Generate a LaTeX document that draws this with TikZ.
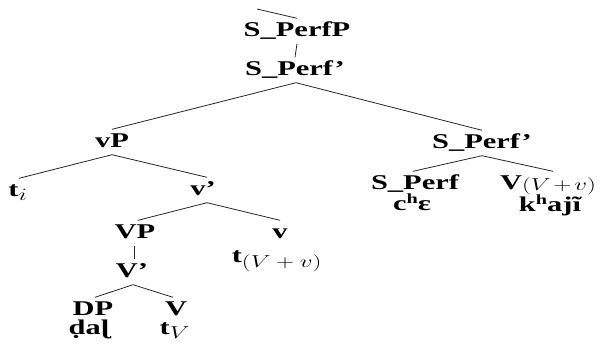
\documentclass[tikz,border=0pt]{standalone}
\usepackage{graphicx}
\usepackage{fontspec}
\setmainfont{Liberation Serif}
\DeclareMathSizes{21}{21}{16}{12}
\newcommand{\hs}[1]{\scalebox{1.45}[1]{#1}}
\newcommand{\sph}{\raisebox{0.33em}{\fontsize{14}{16}\selectfont h}}
\tikzset{
  tn/.style={anchor=base, font=\fontsize{21}{24}\selectfont\bfseries,
    text height=14pt, text depth=4pt, inner xsep=0pt, inner ysep=3.5pt},
  br/.style={line width=0.8pt, black!85}
}
\begin{document}
\begin{tikzpicture}[x=1pt,y=-1pt]
\useasboundingbox (0,0) rectangle (601,343);
\node[tn] (SPerfP) at (297,36) {\hs{S\_PerfP}};
\node[tn] (SPerfA) at (295,75) {\hs{S\_Perf'}};
\node[tn] (vP) at (112,147) {\hs{vP}};
\node[tn] (ti) at (18,196) {\hs{t$_i$}};
\node[tn] (vbar) at (203,195) {\hs{v'}};
\node[tn] (VP) at (135,238) {\hs{VP}};
\node[tn] (Vbar) at (132,277) {\hs{V'}};
\node[tn] (DP) at (93,315) {\hs{DP}};
\node[tn] (V) at (176,315) {\hs{V}};
\node[tn] (dal) at (89,334) {\hs{ḍaɭ}};
\node[tn] (tV) at (175,334) {\hs{t$_V$}};
\node[tn] (v) at (280,238) {\hs{v}};
\node[tn] (tVv) at (277,262) {\hs{t$_{(V\mkern4mu+\mkern4mu v)}$}};
\node[tn] (SPerfB) at (482,148) {\hs{S\_Perf'}};
\node[tn] (SPerf) at (415,189) {\hs{S\_Perf}};
\node[tn] (che) at (412,210) {\hs{c\sph ɛ}};
\node[tn] (VVv) at (548,189) {\hs{V\raisebox{-1.5pt}{$\scriptstyle(V\mkern2mu+\mkern2mu v)$}}};
\node[tn] (khaji) at (550,211) {\hs{k\sph ajĩ}};
\coordinate (stray) at (257,9);

\draw[br] (stray) -- (SPerfP.north);
\draw[br] (SPerfP.south) -- (SPerfA.north);
\draw[br] (vP.north) -- ([xshift=1pt]SPerfA.south) -- (SPerfB.north);
\draw[br] ([xshift=1pt]ti.north) -- (vP.south) -- ([xshift=4pt]vbar.north);
\draw[br] ([xshift=3pt]VP.north) -- ([xshift=4pt]vbar.south) -- (v.north);
\draw[br] ([xshift=-1pt]VP.south) -- ([xshift=2pt]Vbar.north);
\draw[br] ([xshift=2pt]DP.north) -- ([xshift=1pt]Vbar.south) -- ([xshift=-3pt]V.north);
\draw[br] ([xshift=-2pt]SPerf.north) -- (SPerfB.south) -- ([xshift=5pt]VVv.north);
\end{tikzpicture}
\end{document}
